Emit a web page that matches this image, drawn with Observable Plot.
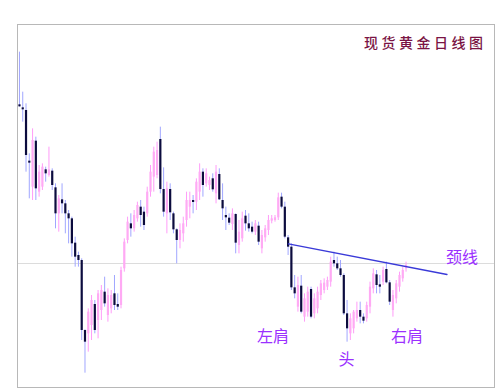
<!DOCTYPE html>
<html><head><meta charset="utf-8">
<script src="https://cdn.jsdelivr.net/npm/d3@7"></script>
<script src="https://cdn.jsdelivr.net/npm/@observablehq/plot@0.6"></script>
<style>body{margin:0;background:#fff} svg{display:block}</style>
</head><body><div id="chart"></div>
<script>
const open = [1687,1678,1670,1518,1440,1578,1425,1440,1492,1475,1488,1438,1360,1402,1390,1360,1345,1272,1235,1220,
1010,1000,1025,1088,1040,1070,1125,1055,1075,1120,1088,1085,1195,1280,1330,1315,1345,1380,1365,1360,
1425,1470,1475,1583,1433,1360,1433,1360,1312,1280,1300,1340,1380,1400,1395,1425,1485,1450,1445,1465,
1420,1478,1400,1355,1347,1328,1358,1265,1285,1353,1330,1320,1305,1323,1255,1288,1310,1338,1340,1348,
1410,1380,1288,1260,1138,1080,1143,1050,1065,1133,1060,1075,1115,1130,1140,1155,1220,1210,1195,1175,
1060,1000,1015,1045,1070,1050,1045,1080,1135,1177,1147,1155,1193,1153,1070,1105,1140,1165,1195];
const high = [1845,1725,1690,1540,1615,1590,1505,1510,1500,1560,1495,1450,1415,1450,1400,1370,1350,1290,1245,1225,
1012,1075,1115,1100,1130,1145,1170,1135,1130,1175,1120,1200,1285,1350,1360,1370,1395,1400,1380,1440,
1505,1560,1575,1620,1498,1455,1450,1365,1315,1330,1350,1425,1425,1415,1465,1510,1495,1495,1470,1480,
1505,1495,1450,1380,1360,1375,1360,1340,1365,1370,1360,1335,1340,1335,1310,1325,1355,1355,1355,1422,
1422,1395,1295,1270,1175,1170,1175,1120,1140,1140,1120,1140,1160,1165,1170,1230,1245,1230,1220,1180,
1100,1060,1070,1095,1095,1060,1095,1155,1195,1190,1175,1200,1215,1160,1130,1160,1185,1200,1215];
const low = [1680,1635,1485,1405,1400,1400,1410,1430,1455,1470,1430,1315,1305,1360,1300,1270,1230,1200,1200,980,
882,945,980,1000,985,1040,1080,1035,1060,1070,1070,1075,1185,1270,1290,1305,1335,1320,1310,1350,
1410,1425,1465,1420,1350,1300,1340,1300,1210,1255,1275,1320,1345,1360,1370,1400,1410,1440,1430,1425,
1390,1400,1340,1310,1325,1310,1240,1240,1275,1308,1305,1300,1295,1265,1240,1275,1295,1330,1335,1340,
1375,1285,1235,1130,1105,1065,1060,1035,1050,1045,1045,1060,1100,1120,1130,1140,1200,1190,1170,1055,
975,980,1000,1035,1030,1030,1035,1060,1120,1120,1120,1145,1150,1085,1050,1090,1125,1155,1185];
const close = [1681,1672,1535,1512,1580,1435,1485,1500,1480,1492,1445,1360,1405,1390,1360,1345,1270,1230,1220,1010,
975,1065,1100,1010,1120,1130,1090,1115,1115,1085,1080,1190,1275,1335,1315,1355,1385,1355,1325,1425,
1485,1545,1550,1433,1365,1435,1363,1312,1280,1310,1330,1400,1400,1394,1455,1485,1445,1480,1460,1432,
1485,1402,1375,1348,1332,1360,1272,1305,1345,1330,1315,1305,1330,1275,1295,1315,1340,1345,1348,1408,
1380,1290,1260,1138,1120,1145,1065,1105,1125,1050,1105,1125,1150,1152,1160,1215,1210,1195,1175,1060,
1015,1045,1065,1070,1050,1038,1085,1140,1180,1145,1140,1190,1153,1095,1115,1150,1175,1190,1205];

const title = "现货黄金日线图";
const refLevel = [1211];
const neckX = [82.1, 130.5];
const neckY = [1270, 1178];
const labelText = ["左肩", "头", "右肩", "颈线"];
const labelX = [77.4, 99.8, 118.3, 135.1];
const labelY = [990, 922, 990, 1228];

const bars = open.map((o, i) => ({i, open: o, high: high[i], low: low[i], close: close[i], up: close[i] >= o}));
const neck = neckX.map((x, k) => ({x, y: neckY[k]}));
const labels = labelText.map((t, k) => ({t, x: labelX[k], y: labelY[k]}));

const chart = Plot.plot({
  width: 503, height: 392,
  marginLeft: 17, marginRight: 9, marginTop: 24, marginBottom: 5,
  style: {fontFamily: "'Noto Sans CJK SC', sans-serif", background: "#fff"},
  x: {domain: [-0.6, 145], axis: null},
  y: {domain: [839, 1928], axis: null},
  marks: [
    Plot.ruleY(refLevel, {stroke: "#dcdcdc", strokeWidth: 1}),
    Plot.ruleX(bars, {x: "i", y1: "low", y2: "high", stroke: d => d.up ? "#ff9cf8" : "#a0a6ff", strokeWidth: 1}),
    Plot.ruleX(bars, {x: "i", y1: "open", y2: "close", stroke: d => d.up ? "#ffaaf4" : "#0c0c3e", strokeWidth: 2.2}),
    Plot.line(neck, {x: "x", y: "y", stroke: "#3a3ad8", strokeWidth: 1.3}),
    Plot.text(labels, {x: "x", y: "y", text: "t", fill: "#9b30ff", fontSize: 16}),
    Plot.text([title], {frameAnchor: "top-right", dx: -8, dy: 14, fill: "#7a1444", fontSize: 14, fontWeight: 500}),
    Plot.frame({stroke: "#b8b8b8"})
  ]
});
chart.querySelectorAll("text").forEach(t => { if (t.textContent === title) t.style.letterSpacing = "3.5px"; });
document.getElementById("chart").append(chart);
</script>
</body></html>
